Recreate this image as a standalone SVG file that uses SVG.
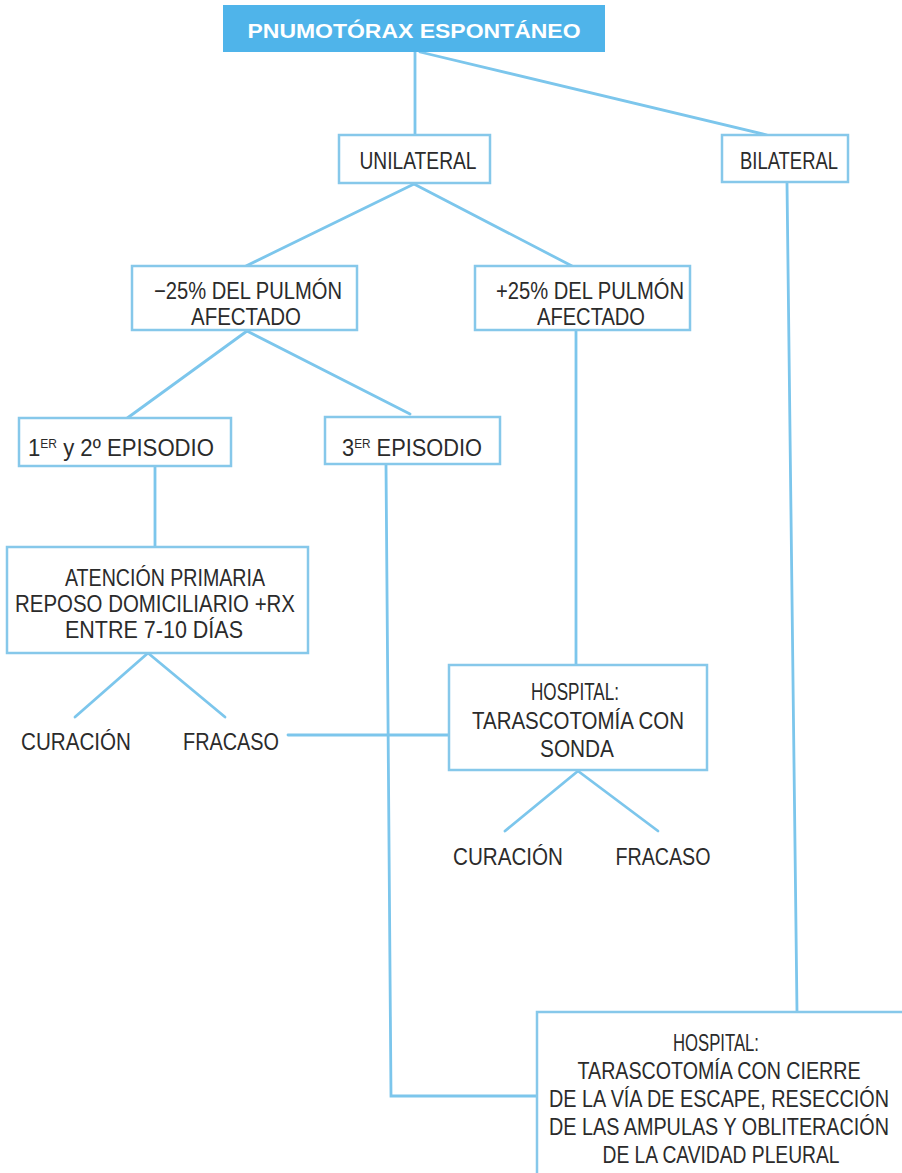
<svg xmlns="http://www.w3.org/2000/svg" width="902" height="1173" viewBox="0 0 902 1173">
<style>
.box{fill:#ffffff;stroke:#86c8ea;stroke-width:2.5}
.ln{fill:none;stroke:#7cc6ec;stroke-width:2.8;stroke-linecap:round}
.t{font-family:"Liberation Sans","DejaVu Sans",sans-serif;font-size:24px;fill:#2b2b2b;text-anchor:middle}
.ti{font-family:"Liberation Sans","DejaVu Sans",sans-serif;font-size:21px;font-weight:bold;fill:#ffffff;text-anchor:middle}
.sup{font-size:13px}
</style>
<rect width="902" height="1173" fill="#ffffff"/>
<g id="connectors">
<line class="ln" x1="415" y1="52" x2="415" y2="135"/>
<line class="ln" x1="420" y1="52" x2="767" y2="135"/>
<line class="ln" x1="414" y1="184" x2="246" y2="266"/>
<line class="ln" x1="414" y1="184" x2="572" y2="266"/>
<line class="ln" x1="247" y1="331" x2="126" y2="419"/>
<line class="ln" x1="247" y1="331" x2="410" y2="414"/>
<line class="ln" x1="155" y1="466" x2="155" y2="547"/>
<line class="ln" x1="148" y1="653" x2="75" y2="717"/>
<line class="ln" x1="148" y1="653" x2="225" y2="717"/>
<line class="ln" x1="288" y1="735" x2="449" y2="735"/>
<line class="ln" x1="576" y1="331" x2="576" y2="665"/>
<line class="ln" x1="578" y1="771" x2="505" y2="831"/>
<line class="ln" x1="578" y1="771" x2="658" y2="831"/>
<path class="ln" d="M386,464 L391,1096 L537,1096"/>
<line class="ln" x1="787" y1="183" x2="797" y2="1012"/>
</g>
<g id="n-title">
<rect x="223" y="5" width="382" height="47" fill="#4fb4ea"/>
<text class="ti" x="414" y="38" textLength="333" lengthAdjust="spacingAndGlyphs">PNUMOTÓRAX ESPONTÁNEO</text>
</g>
<g id="n-unilateral">
<rect class="box" x="339" y="135" width="151" height="48"/>
<text class="t" x="418" y="169" textLength="117" lengthAdjust="spacingAndGlyphs">UNILATERAL</text>
</g>
<g id="n-bilateral">
<rect class="box" x="722" y="135" width="126" height="47"/>
<text class="t" x="789" y="169" textLength="98" lengthAdjust="spacingAndGlyphs">BILATERAL</text>
</g>
<g id="n-menos25">
<rect class="box" x="132" y="266" width="225" height="64"/>
<text class="t" x="248" y="299" textLength="188" lengthAdjust="spacingAndGlyphs">−25% DEL PULMÓN</text>
<text class="t" x="246" y="325" textLength="110" lengthAdjust="spacingAndGlyphs">AFECTADO</text>
</g>
<g id="n-mas25">
<rect class="box" x="475" y="266" width="215" height="64"/>
<text class="t" x="590" y="299" textLength="188" lengthAdjust="spacingAndGlyphs">+25% DEL PULMÓN</text>
<text class="t" x="591" y="325" textLength="108" lengthAdjust="spacingAndGlyphs">AFECTADO</text>
</g>
<g id="n-ep12">
<rect class="box" x="19" y="418" width="212" height="48"/>
<text class="t" x="121" y="456" textLength="186" lengthAdjust="spacingAndGlyphs">1<tspan class="sup" dy="-8">ER</tspan><tspan dy="8"> y 2º EPISODIO</tspan></text>
</g>
<g id="n-ep3">
<rect class="box" x="325" y="417" width="175" height="47"/>
<text class="t" x="412" y="456" textLength="140" lengthAdjust="spacingAndGlyphs">3<tspan class="sup" dy="-8">ER</tspan><tspan dy="8"> EPISODIO</tspan></text>
</g>
<g id="n-atencion">
<rect class="box" x="7" y="547" width="301" height="106"/>
<text class="t" x="165" y="586" textLength="200" lengthAdjust="spacingAndGlyphs">ATENCIÓN PRIMARIA</text>
<text class="t" x="155" y="612" textLength="280" lengthAdjust="spacingAndGlyphs">REPOSO DOMICILIARIO +RX</text>
<text class="t" x="154" y="638" textLength="178" lengthAdjust="spacingAndGlyphs">ENTRE 7-10 DÍAS</text>
</g>
<g id="n-curacion1">
<text class="t" x="76" y="750" textLength="110" lengthAdjust="spacingAndGlyphs">CURACIÓN</text>
</g>
<g id="n-fracaso1">
<text class="t" x="231" y="750" textLength="96" lengthAdjust="spacingAndGlyphs">FRACASO</text>
</g>
<g id="n-hospital1">
<rect class="box" x="449" y="665" width="258" height="105"/>
<text class="t" x="575" y="700" textLength="88" lengthAdjust="spacingAndGlyphs">HOSPITAL:</text>
<text class="t" x="578" y="729" textLength="212" lengthAdjust="spacingAndGlyphs">TARASCOTOMÍA CON</text>
<text class="t" x="577" y="757" textLength="74" lengthAdjust="spacingAndGlyphs">SONDA</text>
</g>
<g id="n-curacion2">
<text class="t" x="508" y="865" textLength="110" lengthAdjust="spacingAndGlyphs">CURACIÓN</text>
</g>
<g id="n-fracaso2">
<text class="t" x="663" y="865" textLength="95" lengthAdjust="spacingAndGlyphs">FRACASO</text>
</g>
<g id="n-hospital2">
<rect x="537" y="1012" width="365" height="161" fill="#ffffff"/>
<path class="box" fill="none" d="M537,1173 L537,1012 L902,1012"/>
<text class="t" transform="translate(716,1051) scale(0.8,1)" x="0" y="0" textLength="107.5" lengthAdjust="spacingAndGlyphs">HOSPITAL:</text>
<text class="t" transform="translate(719,1079) scale(0.8,1)" x="0" y="0" textLength="353.75" lengthAdjust="spacingAndGlyphs">TARASCOTOMÍA CON CIERRE</text>
<text class="t" transform="translate(719,1107) scale(0.8,1)" x="0" y="0" textLength="425" lengthAdjust="spacingAndGlyphs">DE LA VÍA DE ESCAPE, RESECCIÓN</text>
<text class="t" transform="translate(719,1135) scale(0.8,1)" x="0" y="0" textLength="425" lengthAdjust="spacingAndGlyphs">DE LAS AMPULAS Y OBLITERACIÓN</text>
<text class="t" transform="translate(721,1163) scale(0.8,1)" x="0" y="0" textLength="296.25" lengthAdjust="spacingAndGlyphs">DE LA CAVIDAD PLEURAL</text>
</g>
</svg>
